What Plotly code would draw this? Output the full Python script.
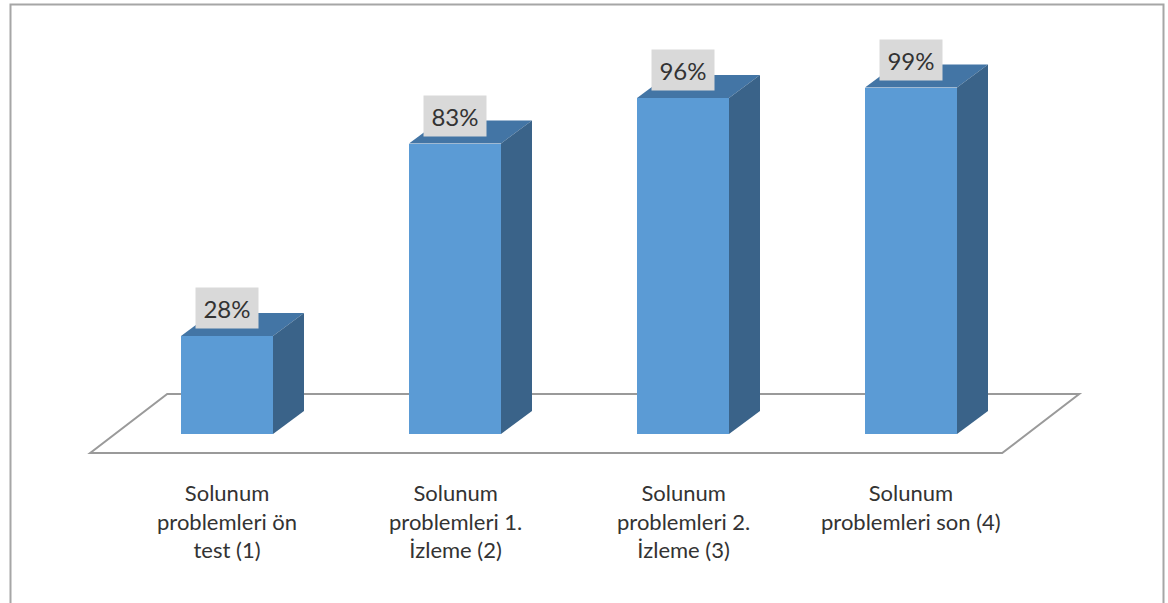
import plotly.graph_objects as go

# ---- data -------------------------------------------------------------
categories = [
    "Solunum<br>problemleri ön<br>test (1)",
    "Solunum<br>problemleri 1.<br>İzleme (2)",
    "Solunum<br>problemleri 2.<br>İzleme (3)",
    "Solunum<br>problemleri son (4)",
]
values = [28, 83, 96, 99]
value_labels = [f"{v}%" for v in values]

# ---- canvas / scale ---------------------------------------------------
W, H = 1168, 603
CAT_PX = 228.0        # pixels between category centres
FIRST_PX = 227.0      # pixel x of first category centre
BASE_PY = 434.0       # pixel y of the bar base (0 %)
PCT_PX = 3.5          # pixels per percent

x_range = [(0 - FIRST_PX) / CAT_PX, (W - FIRST_PX) / CAT_PX]
y_range = [(BASE_PY - H) / PCT_PX, BASE_PY / PCT_PX]

BAR_W = 92 / CAT_PX           # bar width in category units
DEPTH_X = 31 / CAT_PX         # bar depth projection (x)
DEPTH_Y = 23 / PCT_PX         # bar depth projection (y, percent)

FLOOR_LEFT, FLOOR_RIGHT = -0.60, 3.40
FLOOR_FRONT = -19 / PCT_PX
FLOOR_DX = 77 / CAT_PX
FLOOR_DY = 59 / PCT_PX

FRONT = "#5B9BD5"
TOP = "#4375A5"
SIDE = "#3A6389"
FONT = "Lato"
TEXT = "#333333"

LABEL_TOP_PY = 477     # top of the category-label block

xs = list(range(len(values)))

fig = go.Figure()

# front faces
fig.add_trace(go.Bar(
    x=xs, y=values, width=BAR_W, marker=dict(color=FRONT, line=dict(width=0)),
    hoverinfo="skip", showlegend=False,
))

# top and side faces of each 3-D column
for x, v in zip(xs, values):
    l, r = x - BAR_W / 2, x + BAR_W / 2
    fig.add_trace(go.Scatter(
        x=[l, l + DEPTH_X, r + DEPTH_X, r, l],
        y=[v, v + DEPTH_Y, v + DEPTH_Y, v, v],
        fill="toself", fillcolor=TOP, mode="lines", line=dict(width=0, color=TOP),
        hoverinfo="skip", showlegend=False,
    ))
    fig.add_trace(go.Scatter(
        x=[r, r + DEPTH_X, r + DEPTH_X, r, r],
        y=[0, DEPTH_Y, v + DEPTH_Y, v, 0],
        fill="toself", fillcolor=SIDE, mode="lines", line=dict(width=0, color=SIDE),
        hoverinfo="skip", showlegend=False,
    ))

# floor parallelogram, behind the columns
floor = (
    f"M {FLOOR_LEFT},{FLOOR_FRONT} L {FLOOR_RIGHT},{FLOOR_FRONT} "
    f"L {FLOOR_RIGHT + FLOOR_DX},{FLOOR_FRONT + FLOOR_DY} "
    f"L {FLOOR_LEFT + FLOOR_DX},{FLOOR_FRONT + FLOOR_DY} Z"
)
shapes = [
    dict(type="path", path=floor, xref="x", yref="y", layer="below",
         line=dict(color="#9A9A9A", width=2), fillcolor="rgba(0,0,0,0)"),
    # chart frame (bottom edge runs off the page)
    dict(type="path", xref="paper", yref="paper", layer="above",
         path=f"M {10.5/W},0 L {10.5/W},{1-4.5/H} L {1163.5/W},{1-4.5/H} L {1163.5/W},0",
         line=dict(color="#A6A6A6", width=2)),
]

annotations = []
for x, v, t in zip(xs, values, value_labels):
    annotations.append(dict(
        x=x, y=v, xref="x", yref="y", yshift=28, text=t, showarrow=False,
        xanchor="center", yanchor="middle", width=62, height=40,
        bgcolor="#D9D9D9", borderpad=0,
        font=dict(family=FONT, size=24, color=TEXT),
    ))
# category names under the floor
for x, c in zip(xs, categories):
    annotations.append(dict(
        x=x, y=1 - LABEL_TOP_PY / H, xref="x", yref="paper",
        text=c, showarrow=False, xanchor="center", yanchor="top", align="center",
        font=dict(family=FONT, size=22, color=TEXT),
    ))

fig.update_layout(
    width=W, height=H, margin=dict(l=0, r=0, t=0, b=0),
    paper_bgcolor="white", plot_bgcolor="white",
    xaxis=dict(range=x_range, visible=False, fixedrange=True),
    yaxis=dict(range=y_range, visible=False, fixedrange=True),
    shapes=shapes, annotations=annotations, bargap=0,
)

fig.write_html("out.html")
